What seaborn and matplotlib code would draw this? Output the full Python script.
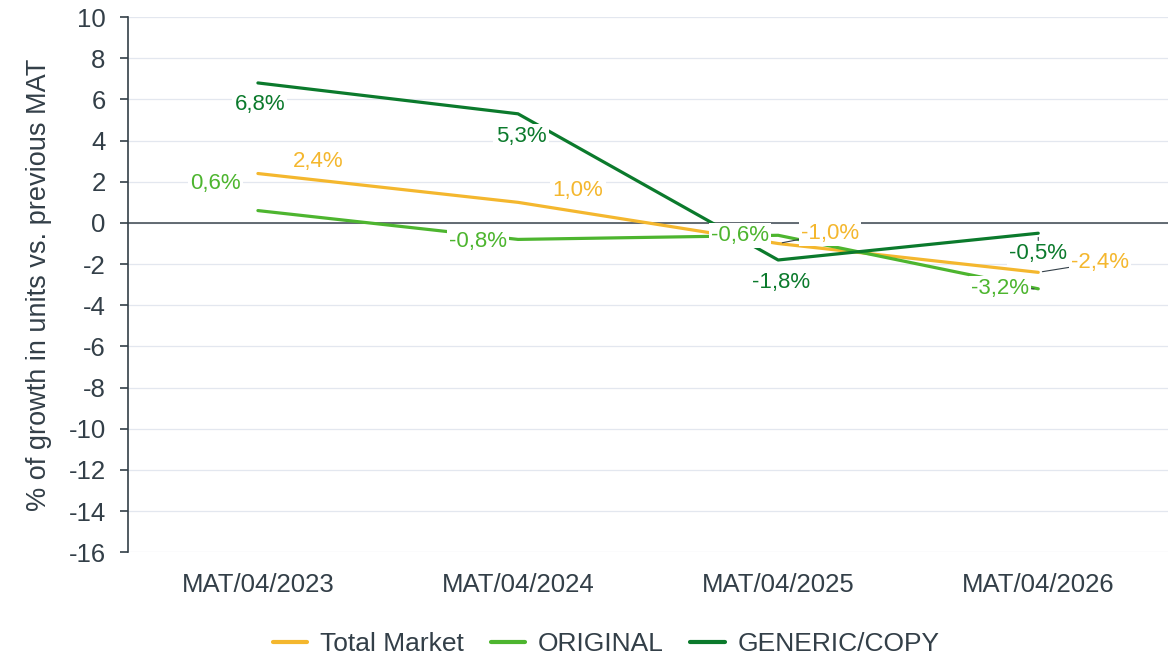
import pandas as pd
import matplotlib.pyplot as plt
import seaborn as sns

periods = ["MAT/04/2023", "MAT/04/2024", "MAT/04/2025", "MAT/04/2026"]
total_market = [2.4, 1.0, -1.0, -2.4]
original = [0.6, -0.8, -0.6, -3.2]
generic = [6.8, 5.3, -1.8, -0.5]
series_names = ["Total Market", "ORIGINAL", "GENERIC/COPY"]
colors = ["#F4B72E", "#4DB52F", "#0B7A2C"]
text_color = "#333F48"

df = pd.DataFrame({
    "period": periods * 3,
    "growth": total_market + original + generic,
    "series": [s for s in series_names for _ in periods],
})

sns.set_theme(style="white")
plt.rcParams["font.family"] = ["Liberation Sans", "DejaVu Sans"]
plt.rcParams["axes.unicode_minus"] = False

fig, ax = plt.subplots(figsize=(11.73, 6.56), dpi=100)
fig.subplots_adjust(left=0.109, right=0.996, top=0.974, bottom=0.158)

sns.lineplot(data=df, x="period", y="growth", hue="series", palette=colors,
             hue_order=series_names, sort=False, linewidth=2.3, ax=ax, zorder=3)

ax.set_ylim(-16, 10)
ax.set_xlim(-0.5, 3.5)
ax.set_yticks(range(-16, 11, 2))
ax.yaxis.grid(True, color="#E3E7EF", linewidth=0.9)
ax.axhline(0, color="#4A545C", linewidth=1.2, zorder=2)
for s in ["top", "right", "bottom"]:
    ax.spines[s].set_visible(False)
ax.spines["left"].set_color(text_color)
ax.spines["left"].set_linewidth(1.2)
ax.tick_params(axis="y", left=True, length=6, width=1.2, color=text_color,
               labelsize=18.5, labelcolor=text_color, pad=10)
ax.tick_params(axis="x", bottom=False, labelsize=18.5, labelcolor=text_color, pad=9)
ax.set_xlabel("")
ax.set_ylabel("% of growth in units vs. previous MAT", fontsize=19.5, color=text_color, labelpad=12)

# label offsets in pixels (dx, dy) and whether a leader line is drawn
offsets = {
    "Total Market": [(60, 12, False), (60, 12, False), (52, 10, True), (62, 10, True)],
    "ORIGINAL": [(-42, 27, False), (-40, -2, False), (-38, 0, False), (-38, 0, True)],
    "GENERIC/COPY": [(2, -22, False), (3, -23, False), (3, -23, False), (0, -20, True)],
}
values = {"Total Market": total_market, "ORIGINAL": original, "GENERIC/COPY": generic}
for name, col in zip(series_names, colors):
    for i, v in enumerate(values[name]):
        dx, dy, leader = offsets[name][i]
        arrow = dict(arrowstyle="-", color=text_color, lw=0.8, shrinkA=0, shrinkB=3) if leader else None
        ax.annotate(f"{v:.1f}%".replace(".", ","), xy=(i, v), xytext=(dx, dy),
                    textcoords="offset pixels", ha="center", va="center",
                    fontsize=16, color=col, zorder=5, arrowprops=arrow,
                    bbox=dict(boxstyle="square,pad=0.1", fc="white", ec="none"))

leg = ax.legend(loc="center", bbox_to_anchor=(0.46, -0.172), ncol=3, frameon=False,
                fontsize=19, handlelength=1.3, columnspacing=1.0, handletextpad=0.5)
for t in leg.get_texts():
    t.set_color(text_color)
for h in leg.get_lines():
    h.set_linewidth(3)

fig.savefig("out.png", dpi=100)
